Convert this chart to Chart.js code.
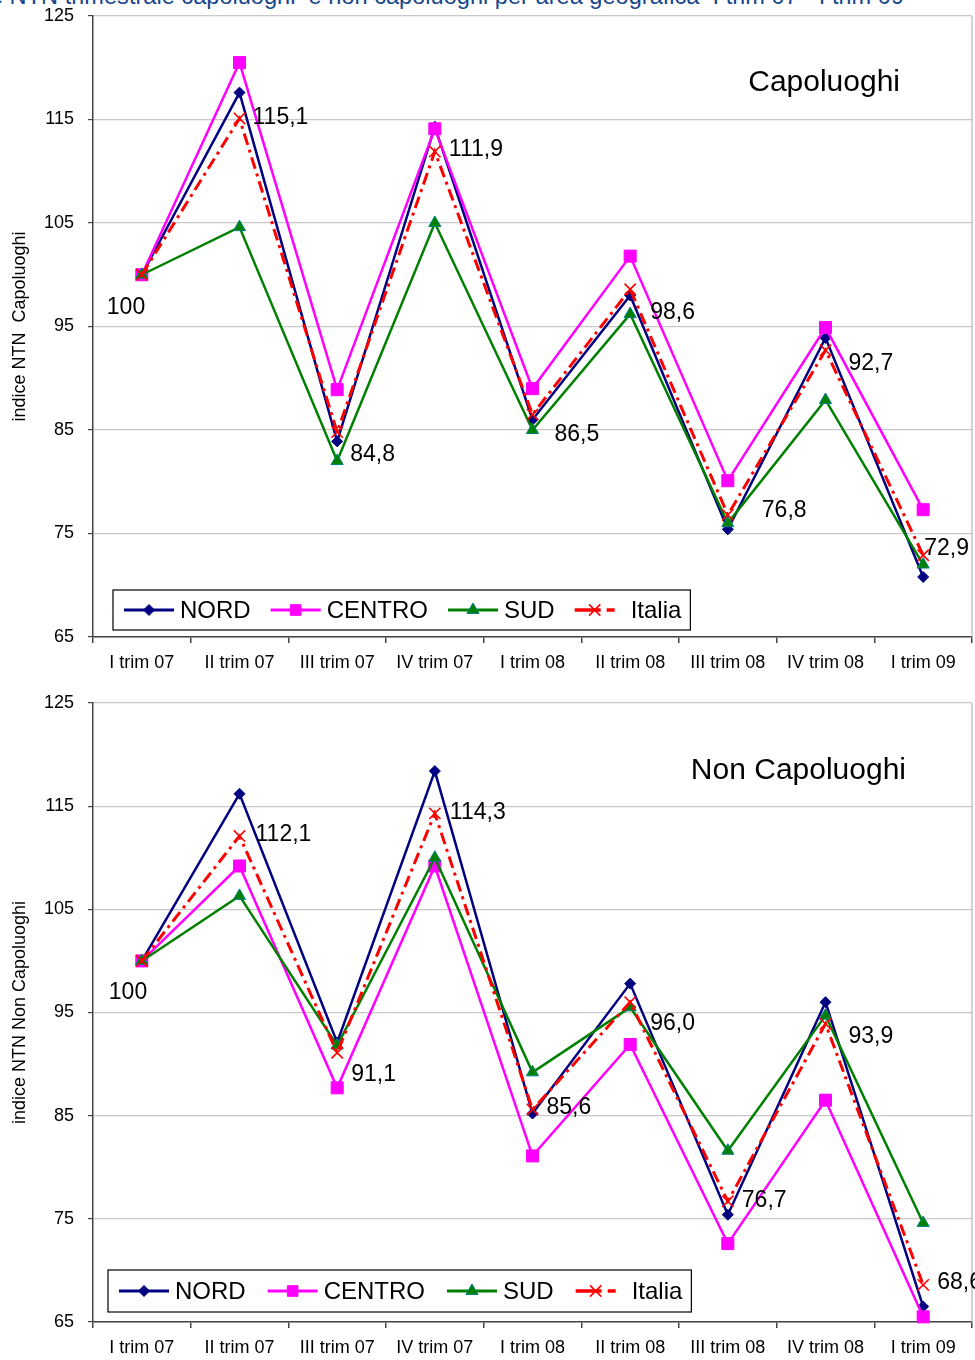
<!DOCTYPE html>
<html lang="it">
<head>
    <meta charset="UTF-8">
    <meta name="viewport" content="width=device-width, initial-scale=1.0">
    <title>Indice NTN trimestrale capoluoghi e non capoluoghi</title>
    <style type="text/css">
        body {
            margin: 0;
            background: #fff;
            width: 975px;
            height: 1360px;
            overflow: hidden;
            position: relative;
            font-family: "Liberation Sans", Arial, sans-serif;
        }
        .pageTitle {
            position: absolute;
            right: 71px;
            top: -16px;
            font-size: 23.6px;
            line-height: 24px;
            color: #17468c;
            white-space: pre;
        }
        .chartBox {
            position: absolute;
            left: 0;
            width: 975px;
            height: 680px;
        }
    </style>
</head>
<body>
    <div class="pageTitle">Indice NTN trimestrale capoluoghi  e non capoluoghi per area geografica  I trim 07 - I trim 09</div>
    <div class="chartBox" style="top:0"><canvas id="chartCap"></canvas></div>
    <div class="chartBox" style="top:680px"><canvas id="chartNon"></canvas></div>

    <script src="https://cdn.jsdelivr.net/npm/chart.js"></script>

    <script>
    // data block
    const quarters = ['I trim 07', 'II trim 07', 'III trim 07', 'IV trim 07', 'I trim 08',
                      'II trim 08', 'III trim 08', 'IV trim 08', 'I trim 09'];
    const seriesNames = ['NORD', 'CENTRO', 'SUD', 'Italia'];

    // capoluoghi
    const nordCap   = [100, 117.6, 83.9, 114.3, 86.0, 98.0, 75.4, 93.9, 70.8];
    const centroCap = [100, 120.5, 88.9, 114.1, 89.0, 101.8, 80.1, 94.9, 77.3];
    const sudCap    = [100, 104.6, 82.0, 105.0, 85.0, 96.2, 76.0, 87.9, 72.0];
    const italiaCap = [100, 115.1, 84.8, 111.9, 86.5, 98.6, 76.8, 92.7, 72.9];

    // non capoluoghi
    const nordNon   = [100, 116.2, 92.1, 118.4, 85.2, 97.8, 75.4, 96.0, 66.5];
    const centroNon = [100, 109.2, 87.7, 109.2, 81.1, 91.9, 72.6, 86.5, 65.5];
    const sudNon    = [100, 106.3, 91.8, 110.0, 89.2, 95.5, 81.6, 94.7, 74.6];
    const italiaNon = [100, 112.1, 91.1, 114.3, 85.6, 96.0, 76.7, 93.9, 68.6];

    const yTicks = { min: 65, max: 125, step: 10 };

    // label nudges (pixels) for the Italia value labels
    const capLabelShift = [[-35, 33], [13, -1], [13, 23], [14, -2], [22, 20], [20, 23], [34, -4], [23, 13], [1, -7]];
    const nonLabelShift = [[-33, 32], [16, -1], [14, 22], [15, -1], [14, -2], [20, 21], [14, -1], [23, 13], [14, -2]];

    const FONT = '"Liberation Sans", Arial, sans-serif';
    Chart.defaults.font.family = FONT;
    Chart.defaults.color = '#000';

    // series styles
    const styles = [
        { color: '#000080', pointStyle: 'rectRot', radius: 5.5, width: 2.5, pointBorder: '#000080', order: 4 },
        { color: '#ff00ff', pointStyle: 'rect', radius: 8.5, width: 2.5, pointBorder: '#ff00ff', order: 3 },
        { color: '#008000', pointStyle: 'triangle', radius: 7, width: 2.5, pointBorder: '#008080', order: 2 },
        { color: '#ff0000', pointStyle: 'crossRot', radius: 8, width: 3, pointBorder: '#ff0000', order: 1, dash: [12, 5, 3, 5] }
    ];

    function buildDatasets(values) {
        return values.map((vals, i) => {
            const s = styles[i];
            return {
                label: seriesNames[i],
                data: vals,
                borderColor: s.color,
                backgroundColor: s.color,
                borderWidth: s.width,
                borderDash: s.dash || [],
                pointStyle: s.pointStyle,
                pointRadius: s.radius,
                pointHoverRadius: s.radius,
                pointBackgroundColor: s.color,
                pointBorderColor: s.pointBorder,
                pointBorderWidth: s.pointStyle === 'crossRot' ? 1.6 : 1,
                tension: 0,
                order: s.order,
                clip: false
            };
        });
    }

    function fmt(v) {
        return v === 100 ? '100' : v.toFixed(1).replace('.', ',');
    }

    // draws title inside the plot, value labels, legend box and right frame
    function extrasPlugin(o) {
        return {
            id: 'extras',
            afterDatasetsDraw(chart) {
                const ctx = chart.ctx;
                const area = chart.chartArea;

                // right frame line
                ctx.save();
                ctx.strokeStyle = '#b4b4b4';
                ctx.lineWidth = 1.2;
                ctx.beginPath();
                ctx.moveTo(area.right, area.top);
                ctx.lineTo(area.right, area.bottom);
                ctx.stroke();
                ctx.restore();

                // Italia value labels
                const meta = chart.getDatasetMeta(3);
                const vals = chart.data.datasets[3].data;
                ctx.save();
                ctx.font = '23px ' + FONT;
                ctx.fillStyle = '#000';
                ctx.textAlign = 'left';
                ctx.textBaseline = 'middle';
                meta.data.forEach((pt, i) => {
                    const sh = o.shift[i];
                    ctx.fillText(fmt(vals[i]), pt.x + sh[0], pt.y + sh[1]);
                });
                ctx.restore();

                // title inside plot
                ctx.save();
                ctx.font = '30px ' + FONT;
                ctx.fillStyle = '#000';
                ctx.textAlign = 'right';
                ctx.textBaseline = 'middle';
                ctx.fillText(o.title, area.right - o.titleRight, area.top + o.titleTop);
                ctx.restore();

                // legend box
                ctx.save();
                ctx.font = '24px ' + FONT;
                const sample = 50, gap = 6, spacing = o.legendSpacing, pad = 11;
                let w = pad;
                chart.data.datasets.forEach((ds, i) => {
                    w += sample + gap + ctx.measureText(ds.label).width;
                    if (i < chart.data.datasets.length - 1) w += spacing;
                });
                w += 9;
                const h = o.legendH;
                const bx = area.left + o.legendLeft;
                const by = area.bottom - o.legendBottom - h;
                ctx.fillStyle = '#fff';
                ctx.fillRect(bx, by, w, h);
                ctx.strokeStyle = '#000';
                ctx.lineWidth = 1.2;
                ctx.strokeRect(bx, by, w, h);

                let x = bx + pad;
                const cy = by + h / 2;
                chart.data.datasets.forEach((ds, i) => {
                    ctx.save();
                    ctx.strokeStyle = ds.borderColor;
                    ctx.lineWidth = ds.borderWidth + 0.5;
                    ctx.setLineDash(ds.borderDash.length ? [26, 6, 8, 10] : []);
                    ctx.beginPath();
                    ctx.moveTo(x, cy);
                    ctx.lineTo(x + sample, cy);
                    ctx.stroke();
                    ctx.setLineDash([]);
                    ctx.fillStyle = ds.pointBackgroundColor;
                    ctx.strokeStyle = ds.pointBorderColor;
                    ctx.lineWidth = ds.pointBorderWidth;
                    const mx = ds.borderDash.length ? x + 20 : x + sample / 2;
                    Chart.helpers.drawPoint(ctx, {
                        pointStyle: ds.pointStyle,
                        radius: ds.pointStyle === 'rect' ? 7.5 : ds.pointRadius,
                        rotation: 0,
                        borderWidth: ds.pointBorderWidth
                    }, mx, cy);
                    ctx.restore();
                    x += sample + gap;
                    ctx.fillStyle = '#000';
                    ctx.textAlign = 'left';
                    ctx.textBaseline = 'middle';
                    ctx.fillText(ds.label, x, cy + 1);
                    x += ctx.measureText(ds.label).width + spacing;
                });
                ctx.restore();
            }
        };
    }

    function makeChart(id, values, o) {
        return new Chart(document.getElementById(id), {
            type: 'line',
            data: {
                labels: quarters,
                datasets: buildDatasets(values)
            },
            options: {
                responsive: true,
                maintainAspectRatio: false,
                animation: false,
                // big markers would otherwise push the plot edge inwards
                layout: {
                    autoPadding: false,
                    padding: { top: o.padTop, right: 3, left: 0, bottom: 0 }
                },
                plugins: {
                    legend: { display: false },
                    tooltip: { enabled: false }
                },
                scales: {
                    x: {
                        offset: true,
                        grid: {
                            offset: true,
                            drawOnChartArea: false,
                            tickLength: 6,
                            tickColor: '#444',
                            lineWidth: 1.5
                        },
                        border: { color: '#444', width: 1.5 },
                        ticks: {
                            color: '#000',
                            font: { size: 18 },
                            padding: 9,
                            maxRotation: 0,
                            autoSkip: false
                        },
                        afterFit: s => {
                            s.height = o.xHeight;
                            s.paddingLeft = 0;
                            s.paddingRight = 0;
                        }
                    },
                    y: {
                        min: yTicks.min,
                        max: yTicks.max,
                        ticks: {
                            stepSize: yTicks.step,
                            color: '#000',
                            font: { size: 18 },
                            padding: 14
                        },
                        grid: {
                            color: '#c8c8c8',
                            lineWidth: 1.2,
                            tickLength: 5,
                            tickColor: '#444'
                        },
                        border: { color: '#444', width: 1.5 },
                        title: {
                            display: true,
                            text: o.yTitle,
                            color: '#000',
                            font: { size: 18 },
                            padding: { top: 9, bottom: 0 }
                        },
                        afterFit: s => {
                            s.width = 93;
                            s.paddingTop = 0;
                            s.paddingBottom = 0;
                        }
                    }
                }
            },
            plugins: [extrasPlugin(o)]
        });
    }

    makeChart('chartCap', [nordCap, centroCap, sudCap, italiaCap], {
        padTop: 16, xHeight: 43,
        yTitle: 'indice NTN  Capoluoghi',
        title: 'Capoluoghi', titleRight: 72, titleTop: 67,
        shift: capLabelShift,
        legendLeft: 20, legendBottom: 7, legendH: 40, legendSpacing: 20
    });

    makeChart('chartNon', [nordNon, centroNon, sudNon, italiaNon], {
        padTop: 23, xHeight: 38,
        yTitle: 'indice NTN Non Capoluoghi',
        title: 'Non Capoluoghi', titleRight: 66, titleTop: 68,
        shift: nonLabelShift,
        legendLeft: 15, legendBottom: 10, legendH: 42, legendSpacing: 22
    });
    </script>
</body>
</html>
